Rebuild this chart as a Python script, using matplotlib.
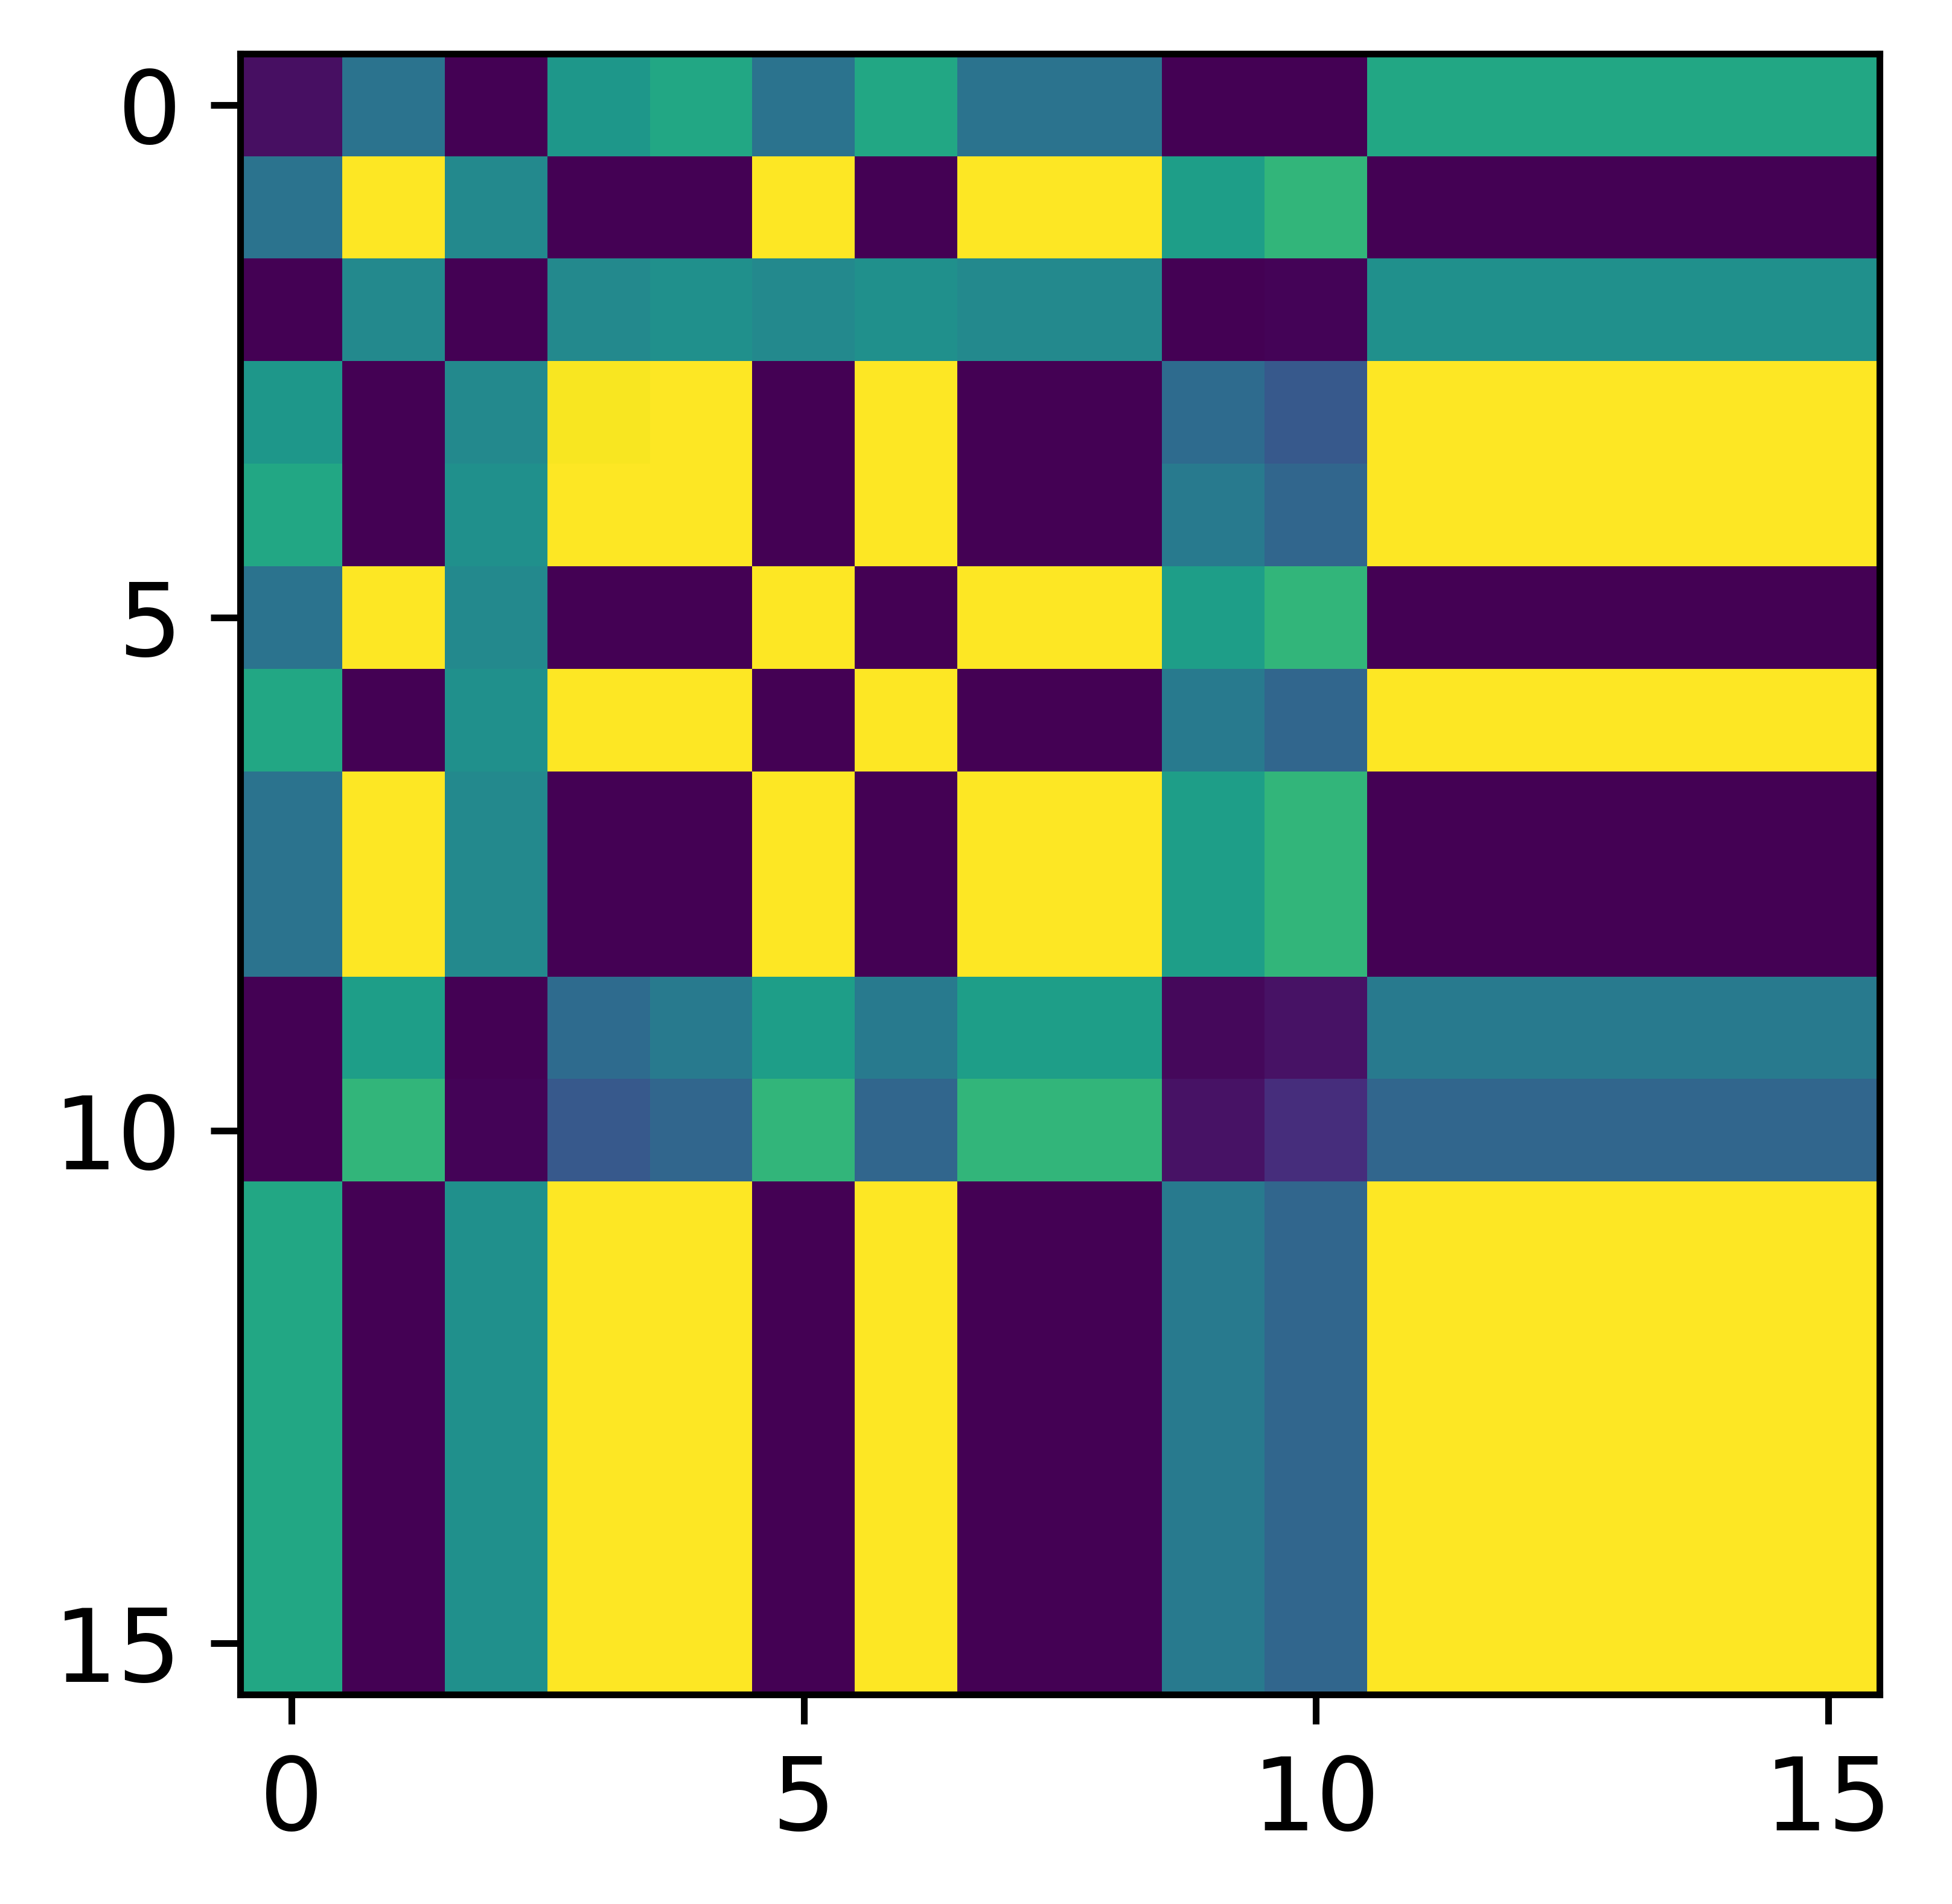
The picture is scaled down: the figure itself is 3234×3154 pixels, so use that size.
import numpy as np
import matplotlib
matplotlib.use("Agg")
import matplotlib.pyplot as plt

row_a = [0.04, 0.38, 0.0, 0.53, 0.60, 0.38, 0.60, 0.38, 0.38, 0.0, 0.0, 0.60, 0.60, 0.60, 0.60, 0.60]
row_b = [0.38, 1.0, 0.47, 0.0, 0.0, 1.0, 0.0, 1.0, 1.0, 0.56, 0.66, 0.0, 0.0, 0.0, 0.0, 0.0]
row_c = [0.0, 0.47, 0.0, 0.47, 0.50, 0.47, 0.50, 0.47, 0.47, 0.0, 0.01, 0.50, 0.50, 0.50, 0.50, 0.50]
row_d = [0.53, 0.0, 0.47, 0.99, 1.0, 0.0, 1.0, 0.0, 0.0, 0.35, 0.28, 1.0, 1.0, 1.0, 1.0, 1.0]
row_e = [0.60, 0.0, 0.50, 1.0, 1.0, 0.0, 1.0, 0.0, 0.0, 0.41, 0.33, 1.0, 1.0, 1.0, 1.0, 1.0]
row_f = [0.0, 0.56, 0.0, 0.35, 0.41, 0.56, 0.41, 0.56, 0.56, 0.02, 0.05, 0.41, 0.41, 0.41, 0.41, 0.41]
row_g = [0.0, 0.66, 0.01, 0.28, 0.33, 0.66, 0.33, 0.66, 0.66, 0.05, 0.13, 0.33, 0.33, 0.33, 0.33, 0.33]

matrix = np.array([row_a, row_b, row_c, row_d, row_e, row_b, row_e, row_b, row_b,
                   row_f, row_g, row_e, row_e, row_e, row_e, row_e])

fig = plt.figure(figsize=(3.234, 3.154), dpi=1000)
ax = fig.add_axes([398 / 3234, 1 - 2807 / 3154, 2716 / 3234, 2718 / 3154])
ax.imshow(matrix, cmap="viridis", vmin=0, vmax=1, interpolation="nearest", aspect="auto")
ax.set_xticks([0, 5, 10, 15])
ax.set_yticks([0, 5, 10, 15])
ax.tick_params(labelsize=12)
fig.savefig("out.png", dpi=1000)
